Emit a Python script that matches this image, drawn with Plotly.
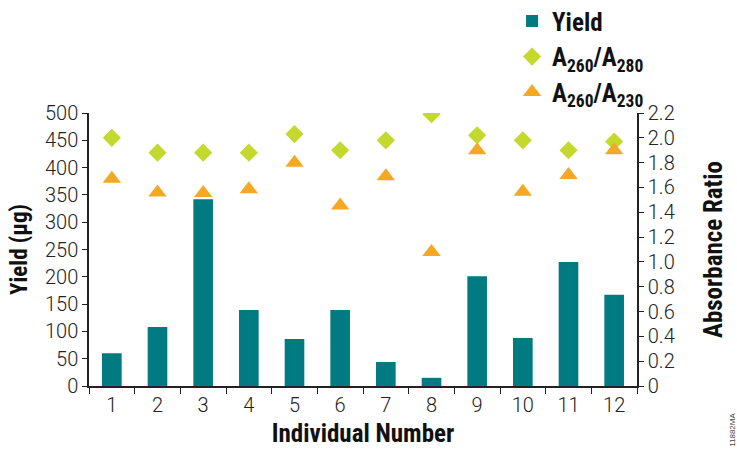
import plotly.graph_objects as go

categories = ["1", "2", "3", "4", "5", "6", "7", "8", "9", "10", "11", "12"]
yield_ug = [60, 108, 342, 139, 86, 139, 44, 15, 201, 88, 227, 167]
a260_280 = [2.00, 1.88, 1.88, 1.88, 2.03, 1.90, 1.98, 2.19, 2.02, 1.98, 1.90, 1.97]
a260_230 = [1.67, 1.56, 1.555, 1.585, 1.80, 1.455, 1.69, 1.08, 1.90, 1.565, 1.70, 1.90]

y_ticks = [0, 50, 100, 150, 200, 250, 300, 350, 400, 450, 500]
y2_ticks = [0, 0.2, 0.4, 0.6, 0.8, 1.0, 1.2, 1.4, 1.6, 1.8, 2.0, 2.2]
y2_labels = ["0", "0.2", "0.4", "0.6", "0.8", "1.0", "1.2", "1.4", "1.6", "1.8", "2.0", "2.2"]

TEAL = "#007B82"
GREEN = "#C4D92E"
ORANGE = "#F5A823"
BOLD = "Roboto Condensed"
REG = "Roboto"

tickfont = dict(family=REG, size=20, color="#222", weight=300)

fig = go.Figure()
fig.add_trace(go.Bar(x=categories, y=yield_ug, name="<b>Yield</b>",
                     marker=dict(color=TEAL, line=dict(width=0)), width=0.43))
fig.add_trace(go.Scatter(x=categories, y=a260_280, name="<b>A<sub>260</sub>/A<sub>280</sub></b>",
                         mode="markers", yaxis="y2",
                         marker=dict(symbol="diamond", size=14, color=GREEN)))
fig.add_trace(go.Scatter(x=categories, y=a260_230, name="<b>A<sub>260</sub>/A<sub>230</sub></b>",
                         mode="markers", yaxis="y2",
                         marker=dict(symbol="triangle-up", size=16, color=ORANGE)))

fig.update_layout(
    width=737, height=449,
    margin=dict(l=89, r=100, t=113, b=63, autoexpand=False),
    paper_bgcolor="white", plot_bgcolor="white",
    showlegend=True,
    legend=dict(x=0.772, y=1.42, xanchor="left", yanchor="top",
                font=dict(family=BOLD, size=25, color="#111"),
                bgcolor="rgba(0,0,0,0)", itemsizing="trace"),
    xaxis=dict(type="category", range=[-0.5, 11.5], showline=True, linecolor="#222", linewidth=1.5,
               ticks="outside", tickson="boundaries", ticklen=6, tickcolor="#222",
               tickfont=tickfont,
               title=dict(text="<b>Individual Number</b>", font=dict(family=BOLD, size=25, color="#111"),
                          standoff=9),
               showgrid=False, zeroline=False, automargin=False),
    yaxis=dict(range=[0, 500], tickvals=y_ticks, showline=True, linecolor="#222", linewidth=1.5,
               ticks="outside", ticklen=5, tickcolor="#222",
               tickfont=tickfont,
               title=dict(text="<b>Yield (µg)</b>", font=dict(family=BOLD, size=23, color="#111"),
                          standoff=11),
               showgrid=False, zeroline=False, automargin=False),
    yaxis2=dict(range=[0, 2.2], tickvals=y2_ticks, ticktext=y2_labels, overlaying="y", side="right",
                showline=True, linecolor="#222", linewidth=1.5,
                ticks="outside", ticklen=5, tickcolor="#222",
                tickfont=tickfont,
                title=dict(text="<b>Absorbance Ratio</b>", font=dict(family=BOLD, size=25, color="#111"),
                           standoff=31),
                showgrid=False, zeroline=False, automargin=False),
)

fig.add_annotation(text="11882MA", xref="paper", yref="paper", x=1.175, y=-0.161,
                   xanchor="center", yanchor="middle", textangle=-90, showarrow=False,
                   font=dict(family="Liberation Sans", size=8, color="#444"))

fig.write_html("out.html", config={"displayModeBar": False},
               post_script="document.body.style.margin='0px';")
